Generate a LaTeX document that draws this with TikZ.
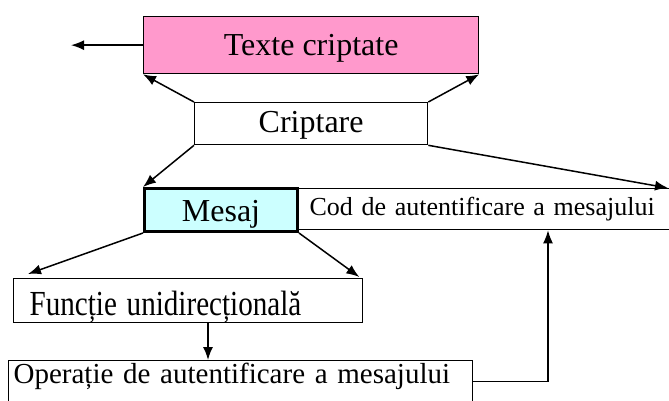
\documentclass[tikz,border=0pt]{standalone}
\usepackage{fontspec}
\setmainfont{Liberation Serif}
\usetikzlibrary{arrows.meta,calc}
\definecolor{pinkbox}{HTML}{FF99CC}
\definecolor{cyanbox}{HTML}{CCFFFF}
\begin{document}
\begin{tikzpicture}[x=1pt,y=-1pt,
  box/.style={draw=black, line width=1.3pt, rectangle, inner ysep=0pt, text depth=0pt, anchor=north west},
  arr/.style={line width=1.5pt, -{Latex[length=13pt,width=10pt]}},
  big/.style={font=\fontsize{32}{36}\selectfont}]
\useasboundingbox (0,0) rectangle (669,400);
\clip (0,0) rectangle (669,400);
\node[box, big, fill=pinkbox, minimum width=335pt, minimum height=57pt, text height=21pt] (tc) at (143,16) {Texte criptate};
\node[box, big, minimum width=233pt, minimum height=42pt, text height=18pt] (cr) at (194,102) {Criptare};
\node[box, font=\fontsize{26}{30}\selectfont, minimum width=380pt, minimum height=41pt, text height=13pt, inner xsep=13pt, text width=354pt, align=left] (cod) at (296,188) {Cod de autentificare a mesajului};
\node[box, big, fill=cyanbox, line width=3pt, minimum width=153pt, minimum height=43pt, text height=23pt] (ms) at (143,187) {Mesaj};
\node[box, big, minimum height=44pt, text height=30pt, inner xsep=16pt, text width=317pt, align=left] (fu) at (13,278) {\scalebox{0.91}[1.1]{Funcție unidirecțională}};
\node[box, font=\fontsize{29}{34}\selectfont, minimum height=42pt, text height=4pt, inner xsep=5pt, text width=454pt, align=left] (op) at (8,360) {Operație de autentificare a mesajului};
\coordinate (tcout) at ($(tc.west)+(-72,0)$);
\coordinate (codtip) at (668,188);
\coordinate (fuout) at ($(fu.south west)+(195,0)$);
\coordinate (codin) at ($(cod.south west)+(252,0)$);
\draw[arr] (tc.west) -- (tcout);
\draw[arr] (cr.north west) -- (tc.south west);
\draw[arr] (cr.north east) -- (tc.south east);
\draw[arr] (cr.south west) -- (ms.north west);
\draw[arr] (cr.south east) -- (codtip);
\draw[arr] (ms.south west) -- ($(fu.north west)+(15,-4)$);
\draw[arr] (ms.south east) -- ($(fu.north east)+(-4,-1)$);
\draw[arr] (fuout) -- (fuout |- op.north);
\draw[arr] (op.east) -| (codin);
\end{tikzpicture}
\end{document}
